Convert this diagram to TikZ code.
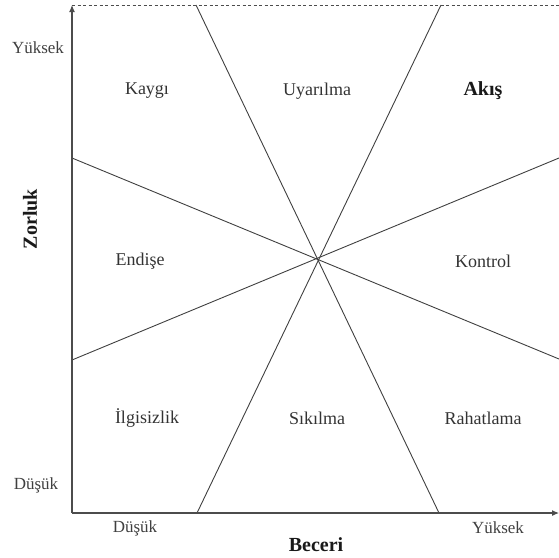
\documentclass[tikz,border=0pt]{standalone}
\usepackage{fontspec}
\setmainfont{Liberation Serif}
\usetikzlibrary{arrows.meta}
\begin{document}
\begin{tikzpicture}[x=1pt,y=-1pt,
  axis/.style={draw=black!70,line width=1.1pt,-{Latex[length=7pt,width=6pt]}},
  divider/.style={draw=black!75,line width=0.9pt},
  zone/.style={font=\fontsize{18}{20}\selectfont,text=black!80},
  zonebold/.style={font=\fontsize{20}{22}\selectfont\bfseries,text=black!90},
  tick/.style={font=\fontsize{17}{19}\selectfont,text=black!75}]
\useasboundingbox (0,0) rectangle (559,557);
% frame corners
\coordinate (O) at (72,513);
\coordinate (ytop) at (72,5);
\coordinate (xend) at (559,513);
\coordinate (tr) at (559,5);
% dividing lines through the centre
\coordinate (C) at (317,260);
\coordinate (t1) at (196,5);   \coordinate (b1) at (439,513);
\coordinate (t2) at (441,5);   \coordinate (b2) at (197,513);
\coordinate (l1) at (72,158);  \coordinate (r1) at (559,359);
\coordinate (l2) at (72,360);  \coordinate (r2) at (559,158);
\draw[divider] (t1) -- (b1);
\draw[divider] (t2) -- (b2);
\draw[divider] (l1) -- (r1);
\draw[divider] (l2) -- (r2);
% top dashed boundary
\draw[draw=black!70,line width=0.9pt,dash pattern=on 3pt off 2.5pt] (ytop) -- (tr);
% axes
\draw[axis] (O) -- (ytop);
\draw[axis] (O) -- (xend);
% zone labels
\node[zone] (kaygi) at (147,91) {Kaygı};
\node[zone] (uyar) at (317,91) {Uyarılma};
\node[zonebold] (akis) at (483,91) {Akış};
\node[zone] (endise) at (140,261) {Endişe};
\node[zone] (kontrol) at (483,261) {Kontrol};
\node[zone] (ilgi) at (147,418) {İlgisizlik};
\node[zone] (sikil) at (317,418) {Sıkılma};
\node[zone] (rahat) at (483,418) {Rahatlama};
% axis labels
\node[tick] (yhi) at (38,48) {Yüksek};
\node[tick] (ylo) at (36,485) {Düşük};
\node[tick] (xlo) at (135,528) {Düşük};
\node[tick] (xhi) at (498,528) {Yüksek};
\node[zonebold] (xlab) at (316,545) {Beceri};
\node[zonebold,rotate=90] (ylab) at (30,219) {Zorluk};
\end{tikzpicture}
\end{document}
